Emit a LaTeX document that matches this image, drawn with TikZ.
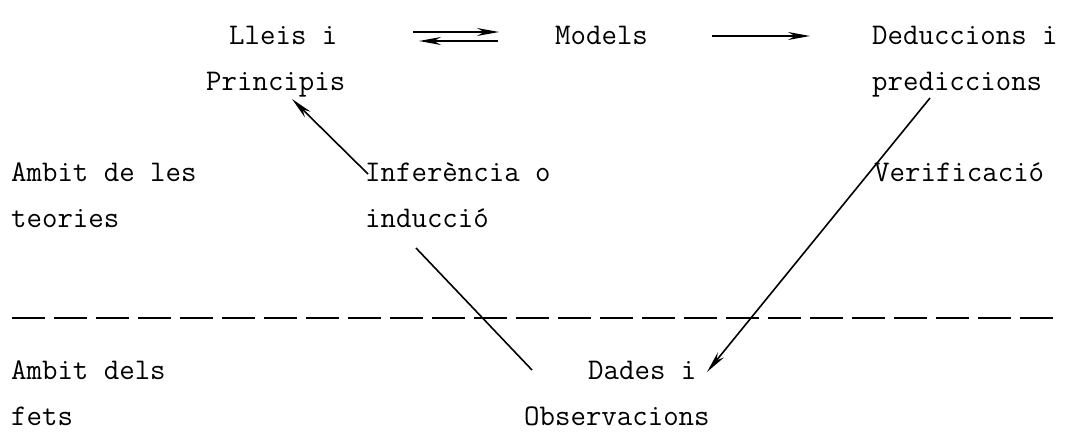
\documentclass[tikz,border=0pt]{standalone}
\usepackage{fontspec}
\usetikzlibrary{arrows.meta}
\begin{document}
\begin{tikzpicture}[x=1pt,y=-1pt,
  lbl/.style={anchor=base west, inner sep=0pt,
    font=\fontsize{30}{30}\selectfont\ttfamily\addfontfeature{FakeBold=0.6}},
  conn/.style={line width=1.6pt},
  tip/.style={-{Stealth[length=22pt,width=8pt,inset=7pt]}},
  sep/.style={line width=1.8pt, dash pattern=on 33pt off 9pt}]
\useasboundingbox (0,0) rectangle (1066,434);
\fill[white] (0,0) rectangle (1066,434);

% upper row: theory
\node[lbl] (lleis)       at (229,44)  {Lleis i};
\node[lbl] (principis)   at (206,90)  {Principis};
\node[lbl] (models)      at (555,44)  {Models};
\node[lbl] (deduccions)  at (872,44)  {Deduccions i};
\node[lbl] (prediccions) at (872,90)  {prediccions};

% middle row
\node[lbl] (ambitteo)    at (11,181)  {Ambit de les};
\node[lbl] (teories)     at (11,227)  {teories};
\node[lbl] (inferencia)  at (365,181) {Inferència o};
\node[lbl] (induccio)    at (365,227) {inducció};
\node[lbl] (verificacio) at (874,181) {Verificació};

% lower row: facts
\node[lbl] (ambitfets)   at (11,379)  {Ambit dels};
\node[lbl] (fets)        at (11,425)  {fets};
\node[lbl] (dades)       at (588,379) {Dades i};
\node[lbl] (observ)      at (524,425) {Observacions};

% end points of the connectors
\coordinate (lawsR)  at (413,32);
\coordinate (modL)   at (499,32);
\coordinate (modL2)  at (498,41);
\coordinate (lawsR2) at (419,41);
\coordinate (modR)   at (712,36);
\coordinate (dedL)   at (810,36);
\coordinate (infTop) at (368,174);
\coordinate (infTip) at (292,99);
\coordinate (obsTop) at (416,248);
\coordinate (obsEnd) at (532,370);
\coordinate (verTop) at (930,98);
\coordinate (verTip) at (707,372);
\coordinate (sepL)   at (12,318);
\coordinate (sepR)   at (1060,318);

% laws <-> models, models -> deductions
\draw[conn, tip] (lawsR) -- (modL);
\draw[conn, tip] (modL2) -- (lawsR2);
\draw[conn, tip] (modR) -- (dedL);

% inference from the data up to the laws
\draw[conn] (obsEnd) -- (obsTop);
\draw[conn, tip] (infTop) -- (infTip);

% verification of the predictions against the data
\draw[conn, tip] (verTop) -- (verTip);

% border between theory and facts
\draw[sep] (sepL) -- (sepR);
\end{tikzpicture}
\end{document}
